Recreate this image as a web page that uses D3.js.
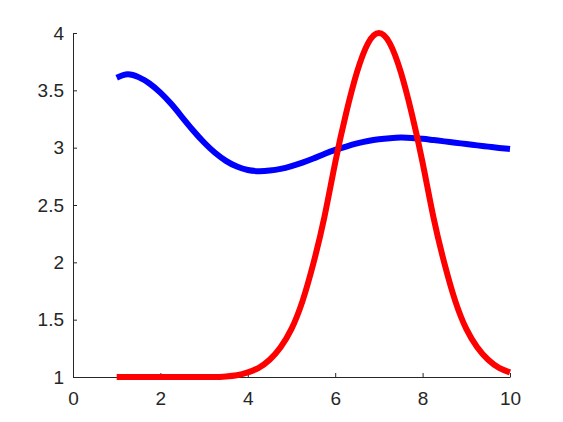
<!DOCTYPE html>
<html><head><meta charset="utf-8">
<script src="https://cdn.jsdelivr.net/npm/d3@7"></script>
<style>html,body{margin:0;padding:0;background:#fff;}</style>
</head><body>
<script>
const xs = [1,1.25,1.5,1.75,2,2.25,2.5,2.75,3,3.25,3.5,3.75,4,4.25,4.5,4.75,5,5.25,5.5,5.75,6,6.25,6.5,6.75,7,7.25,7.5,7.75,8,8.25,8.5,8.75,9,9.25,9.5,9.75,10];
const blueValues = [3.61,3.64,3.615,3.56,3.48,3.38,3.265,3.15,3.045,2.955,2.885,2.835,2.805,2.795,2.80,2.815,2.84,2.87,2.905,2.945,2.98,3.01,3.037,3.058,3.073,3.083,3.088,3.085,3.077,3.066,3.055,3.043,3.032,3.020,3.009,2.998,2.988];
const redValues = [1.00,1.00,1.00,1.00,1.00,1.00,1.00,1.00,1.00,1.00,1.005,1.015,1.04,1.08,1.15,1.26,1.42,1.66,1.99,2.39,2.87,3.30,3.66,3.91,4.00,3.91,3.66,3.30,2.87,2.39,1.99,1.66,1.42,1.26,1.15,1.08,1.04];
const xTicks = [0,2,4,6,8,10];
const yTicks = [1,1.5,2,2.5,3,3.5,4];

const W = 563, H = 422;
const svg = d3.select("body").append("svg").attr("width", W).attr("height", H);
const x = d3.scaleLinear().domain([0,10]).range([73,510]);
const y = d3.scaleLinear().domain([1,4]).range([377,33]);
const axisColor = "#262626";
const font = "'Liberation Sans', Arial, sans-serif";

const xAxis = svg.append("g").attr("transform", `translate(0,${y(1)})`)
  .call(d3.axisBottom(x).tickValues(xTicks).tickSizeInner(-4).tickSizeOuter(0).tickPadding(15).tickFormat(d3.format("")));
const yAxis = svg.append("g").attr("transform", `translate(${x(0)},0)`)
  .call(d3.axisLeft(y).tickValues(yTicks).tickSizeInner(-4).tickSizeOuter(0).tickPadding(9).tickFormat(d3.format("")));
[xAxis, yAxis].forEach(a => {
  a.attr("font-size", 19).attr("font-family", font);
  a.selectAll("path").attr("stroke", axisColor).attr("stroke-width", 1);
  a.selectAll("line").attr("stroke", axisColor).attr("stroke-width", 1);
  a.selectAll("text").attr("fill", axisColor).attr("font-size", 19).attr("font-family", font);
});
xAxis.selectAll("text").attr("dy", "0.71em");

const line = d3.line().x(d => x(d[0])).y(d => y(d[1])).curve(d3.curveNatural);
svg.append("path").datum(xs.map((v,i)=>[v, blueValues[i]]))
  .attr("d", line).attr("fill","none").attr("stroke","#0000ff").attr("stroke-width",6)
  .attr("stroke-linejoin","round").attr("stroke-linecap","butt");
svg.append("path").datum(xs.map((v,i)=>[v, redValues[i]]))
  .attr("d", line).attr("fill","none").attr("stroke","#ff0000").attr("stroke-width",6)
  .attr("stroke-linejoin","round").attr("stroke-linecap","butt");
</script>
</body></html>
